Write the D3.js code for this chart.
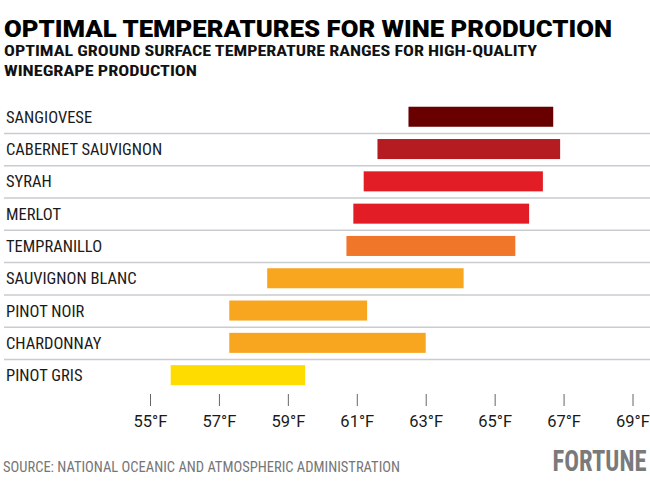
<!DOCTYPE html>
<html>
<head>
<meta charset="utf-8">
<script src="https://cdn.jsdelivr.net/npm/d3@7"></script>
<style>
  body { margin: 0; background: #fff; }
  svg { display: block; }
</style>
</head>
<body>
<div id="chart"></div>
<script>
// Grape varieties, top to bottom
const grapes = ["SANGIOVESE", "CABERNET SAUVIGNON", "SYRAH", "MERLOT", "TEMPRANILLO",
                "SAUVIGNON BLANC", "PINOT NOIR", "CHARDONNAY", "PINOT GRIS"];
// Optimal range, °F
const lowTemps  = [62.5, 61.6, 61.2, 60.9, 60.7, 58.4, 57.3, 57.3, 55.6];
const highTemps = [66.7, 66.9, 66.4, 66.0, 65.6, 64.1, 61.3, 63.0, 59.5];
const barColors = ["#680000", "#b41c21", "#e31d25", "#e31d25", "#f0762a",
                   "#f8a61f", "#f8a61f", "#f8a61f", "#fedc00"];
const tickValues = [55, 57, 59, 61, 63, 65, 67, 69];

const width = 650, height = 488;
const condensed = "'Liberation Sans Narrow', 'Roboto Condensed', Roboto, sans-serif";

const svg = d3.select("#chart")
              .append("svg")
              .attr("width", width)
              .attr("height", height);

const data = grapes.map((g, i) => ({ grape: g, lo: lowTemps[i], hi: highTemps[i], color: barColors[i] }));

// Scales
const x = d3.scaleLinear()
            .domain([55, 69])
            .range([150, 632.5]);

const y = d3.scaleBand()
            .domain(grapes)
            .range([100.6, 391.3])
            .paddingInner(0.38)
            .paddingOuter(0.19);

// Row separators
const sepY = d => y(d) + y.step() - (y.step() - y.bandwidth()) / 2 + 0.5;
svg.append("g")
   .selectAll("line")
   .data(grapes.slice(0, -1))
   .join("line")
   .attr("x1", 4)
   .attr("x2", width)
   .attr("y1", sepY)
   .attr("y2", sepY)
   .attr("stroke", "#c9ccd1")
   .attr("stroke-width", 1.5);

// Range bars
svg.append("g")
   .selectAll("rect")
   .data(data)
   .join("rect")
   .attr("x", d => x(d.lo))
   .attr("y", d => y(d.grape))
   .attr("width", d => x(d.hi) - x(d.lo))
   .attr("height", y.bandwidth())
   .attr("fill", d => d.color);

// Category labels
svg.append("g")
   .selectAll("text")
   .data(data)
   .join("text")
   .attr("x", 6)
   .attr("y", d => y(d.grape) + y.bandwidth() / 2 + 6)
   .style("font-family", condensed)
   .style("font-size", "16.5px")
   .attr("fill", "#1a1a1a")
   .text(d => d.grape);

// X axis
const axis = svg.append("g")
   .attr("transform", "translate(0, 394)")
   .call(d3.axisBottom(x)
           .tickValues(tickValues)
           .tickSize(12)
           .tickFormat(d => d + "°F"));

axis.select(".domain").remove();
axis.selectAll(".tick line").attr("stroke", "#666").attr("stroke-width", 1);
axis.selectAll(".tick text")
    .attr("y", 33)
    .attr("dy", 0)
    .attr("fill", "#1a1a1a")
    .style("font-family", "Roboto, 'Liberation Sans', sans-serif")
    .style("font-size", "16.5px");

// Title and subtitle
svg.append("text")
   .attr("x", 4)
   .attr("y", 36.5)
   .attr("textLength", 608)
   .attr("lengthAdjust", "spacingAndGlyphs")
   .style("font-family", "Roboto, Inter, sans-serif")
   .style("font-weight", 900)
   .style("font-size", "23.5px")
   .attr("fill", "#000")
   .text("OPTIMAL TEMPERATURES FOR WINE PRODUCTION");

svg.append("text")
   .attr("x", 4)
   .attr("y", 55.5)
   .attr("textLength", 533)
   .attr("lengthAdjust", "spacingAndGlyphs")
   .style("font-family", condensed)
   .style("font-weight", 700)
   .style("font-size", "15.5px")
   .attr("fill", "#111")
   .text("OPTIMAL GROUND SURFACE TEMPERATURE RANGES FOR HIGH-QUALITY");

svg.append("text")
   .attr("x", 4)
   .attr("y", 76)
   .attr("textLength", 193)
   .attr("lengthAdjust", "spacingAndGlyphs")
   .style("font-family", condensed)
   .style("font-weight", 700)
   .style("font-size", "15.5px")
   .attr("fill", "#111")
   .text("WINEGRAPE PRODUCTION");

// Footer
svg.append("text")
   .attr("x", 3)
   .attr("y", 471.5)
   .attr("textLength", 397)
   .attr("lengthAdjust", "spacingAndGlyphs")
   .style("font-family", condensed)
   .style("font-size", "15px")
   .attr("fill", "#767676")
   .text("SOURCE: NATIONAL OCEANIC AND ATMOSPHERIC ADMINISTRATION");

// Logo: narrow-set wordmark, stretched tall
svg.append("text")
   .attr("transform", "translate(552.5, 470.5) scale(1, 1.45)")
   .attr("textLength", 94)
   .attr("lengthAdjust", "spacingAndGlyphs")
   .style("font-family", condensed)
   .style("font-weight", 700)
   .style("font-size", "20.5px")
   .attr("fill", "#7a7a7a")
   .text("FORTUNE");
</script>
</body>
</html>
